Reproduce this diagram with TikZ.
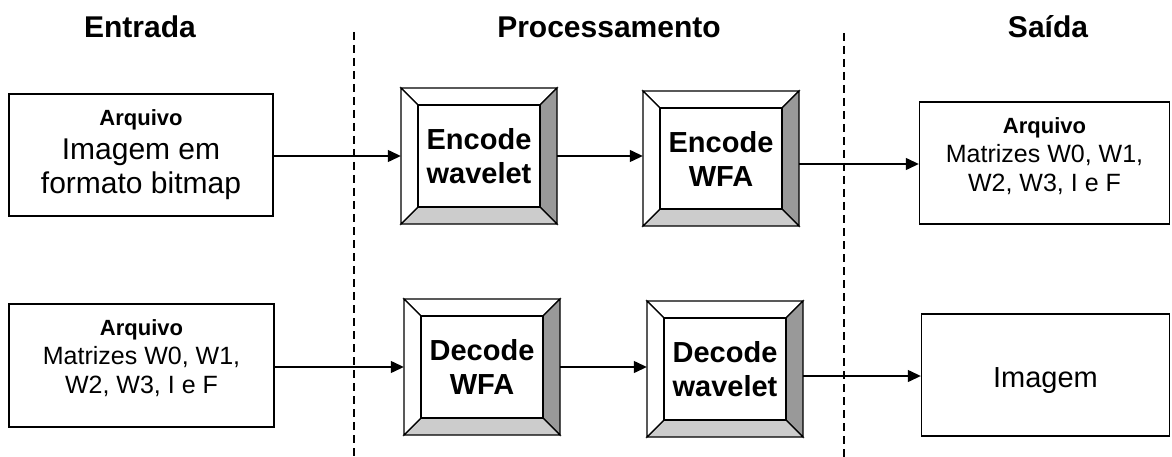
\documentclass[tikz,border=0pt]{standalone}
\usepackage{fontspec}
\setmainfont{Liberation Sans}
\usetikzlibrary{arrows.meta}
\definecolor{bevdark}{HTML}{999999}
\definecolor{bevlight}{HTML}{CCCCCC}
\newcommand\arqlabel{{\fontsize{22}{26}\selectfont\bfseries Arquivo}}
\tikzset{
  plainbox/.style={draw, line width=1.4pt, rectangle, inner sep=0pt, align=center},
  bigtext/.style={font=\fontsize{30}{34}\selectfont},
  medtext/.style={font=\fontsize{25}{29}\selectfont},
  bevtext/.style={rectangle, inner sep=0pt, align=center, font=\fontsize{29}{34}\selectfont\bfseries},
  bevline/.style={line width=1.2pt, line join=miter},
  arr/.style={line width=1.3pt, -{Triangle[length=13pt,width=12pt]}},
  sep/.style={line width=1.4pt, dash pattern=on 8pt off 5pt},
  header/.style={font=\fontsize{30}{34}\selectfont\bfseries, anchor=base},
}
\newcommand\bevbox[6]{%
  \filldraw[bevline, fill=white] (#2,#3) -- (#4,#3) -- ({#4-17},{#3+17}) -- ({#2+17},{#3+17}) -- cycle;
  \filldraw[bevline, fill=bevdark] (#4,#3) -- (#4,#5) -- ({#4-17},{#5-17}) -- ({#4-17},{#3+17}) -- cycle;
  \filldraw[bevline, fill=bevlight] (#2,#5) -- (#4,#5) -- ({#4-17},{#5-17}) -- ({#2+17},{#5-17}) -- cycle;
  \filldraw[bevline, fill=white] (#2,#3) -- (#2,#5) -- ({#2+17},{#5-17}) -- ({#2+17},{#3+17}) -- cycle;
  \draw[bevline, fill=white] ({#2+17},{#3+17}) rectangle ({#4-17},{#5-17});
  \node[bevtext, minimum width={(#4-#2)*1pt}, minimum height={(#5-#3)*1pt}] (#1) at ({(#2+#4)/2},{(#3+#5)/2}) {#6};
}
\begin{document}
\begin{tikzpicture}[x=1pt, y=-1pt]
\useasboundingbox (0,0) rectangle (1172,457);
% headers
\node[header] (h1) at (140,38) {Entrada};
\node[header] (h2) at (609,38) {Processamento};
\node[header] (h3) at (1048,38) {Saída};
% separators
\coordinate (s1a) at (354,32); \coordinate (s1b) at (354,457);
\coordinate (s2a) at (844,33); \coordinate (s2b) at (844,457);
\draw[sep] (s1a) -- (s1b);
\draw[sep] (s2a) -- (s2b);
% input boxes
\node[plainbox, bigtext, minimum width=264pt, minimum height=122pt] (A1) at (141,155)
  {\arqlabel\\Imagem em\\formato bitmap};
\node[plainbox, medtext, minimum width=265pt, minimum height=123pt] (A2) at (141.5,365.5)
  {\arqlabel\\Matrizes W0, W1,\\W2, W3, I e F\rule[-17pt]{0pt}{1pt}};
% processing boxes
\bevbox{E1}{401}{88}{557}{224}{Encode\\wavelet}
\bevbox{E2}{643}{91}{799}{226}{Encode\\WFA}
\bevbox{D1}{404}{299}{560}{435}{Decode\\WFA}
\bevbox{D2}{647}{301}{803}{437}{Decode\\wavelet}
% output boxes
\node[plainbox, medtext, minimum width=250pt, minimum height=122pt] (O1) at (1044.5,163)
  {\arqlabel\\Matrizes W0, W1,\\W2, W3, I e F\rule[-17pt]{0pt}{1pt}};
\node[plainbox, font=\fontsize{29}{34}\selectfont, minimum width=248pt, minimum height=122pt] (O2) at (1045.5,375)
  {\rule{0pt}{31pt}Imagem};
% connectors
\draw[arr] (A1.east |- 0,156) -- (E1.west |- 0,156);
\draw[arr] (E1.east |- 0,156) -- (E2.west |- 0,156);
\draw[arr] (E2.east |- 0,164) -- (O1.west |- 0,164);
\draw[arr] (A2.east |- 0,367) -- (D1.west |- 0,367);
\draw[arr] (D1.east |- 0,367) -- (D2.west |- 0,367);
\draw[arr] (D2.east |- 0,376) -- (O2.west |- 0,376);
\end{tikzpicture}
\end{document}
